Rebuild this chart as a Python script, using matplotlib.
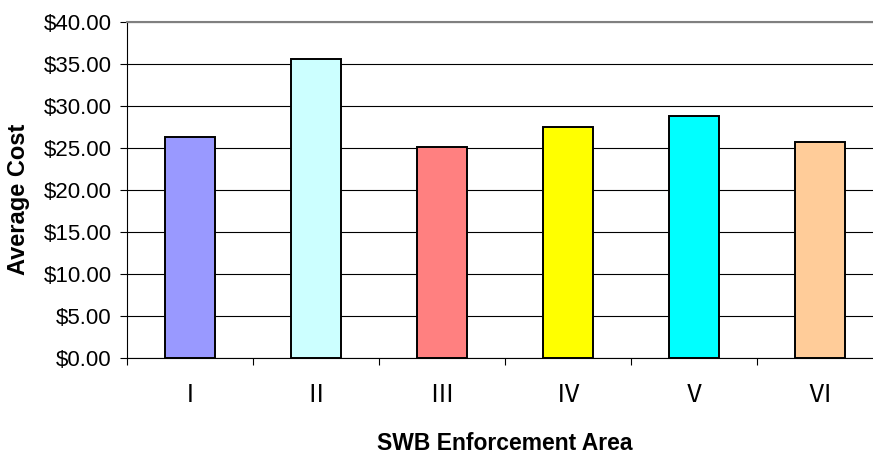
import matplotlib.pyplot as plt
from matplotlib.ticker import FuncFormatter, MultipleLocator, FixedLocator
import numpy as np

# data
areas = ["Ⅰ", "Ⅱ", "Ⅲ", "Ⅳ", "Ⅴ", "Ⅵ"]
avg_cost = [26.2, 35.5, 25.1, 27.5, 28.7, 25.6]
bar_colors = ["#9999FF", "#CCFFFF", "#FF8080", "#FFFF00", "#00FFFF", "#FFCC99"]

plt.rcParams['font.family'] = ['Liberation Sans', 'Noto Sans CJK JP', 'DejaVu Sans']

fig = plt.figure(figsize=(8.73, 4.55), dpi=100)
# axes run past the right edge, as in the cropped original
ax = fig.add_axes([127/873, 97.5/455, 756/873, 336/455])

x = np.arange(len(areas))
ax.bar(x, avg_cost, width=0.39, color=bar_colors, edgecolor="black", linewidth=1.4, zorder=3)

ax.set_xlim(-0.5, len(areas) - 0.5)
ax.set_ylim(0, 40)
ax.yaxis.set_major_locator(MultipleLocator(5))
ax.yaxis.set_major_formatter(FuncFormatter(lambda v, p: f"${v:.2f}"))
ax.grid(axis="y", color="black", linewidth=0.8, zorder=0)

# category labels centred, ticks at the boundaries
ax.set_xticks(x)
ax.set_xticklabels(areas)
ax.xaxis.set_minor_locator(FixedLocator(np.arange(-0.5, len(areas), 1)))
ax.tick_params(axis="x", which="major", length=0, pad=18, labelsize=18)
ax.tick_params(axis="x", which="minor", length=5, width=0.8, direction="out")
ax.tick_params(axis="y", length=5, width=0.8, direction="out", pad=6, labelsize=16)

for side in ["top", "right"]:
    ax.spines[side].set_color("#808080")
    ax.spines[side].set_linewidth(1.5)
ax.spines["left"].set_linewidth(0.8)
ax.spines["bottom"].set_linewidth(0.8)

ax.set_xlabel("SWB Enforcement Area", fontsize=16.5, fontweight="bold", labelpad=18)
ax.set_ylabel("Average Cost", fontsize=17, fontweight="bold")
ax.yaxis.set_label_coords(-0.128, 0.47)

fig.savefig("out.png", dpi=100)
